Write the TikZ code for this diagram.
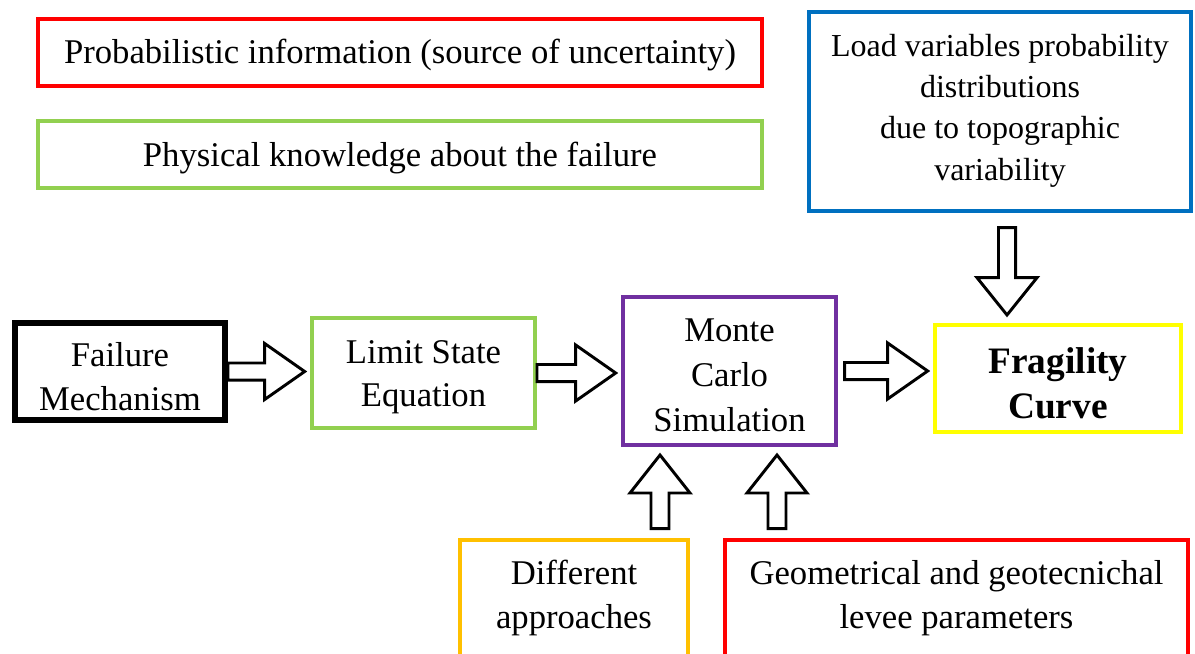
\documentclass[tikz,border=0pt]{standalone}
\usepackage{fontspec}
\setmainfont{Liberation Serif}
\usetikzlibrary{calc}
\definecolor{cred}{RGB}{255,0,0}
\definecolor{cgreen}{RGB}{146,208,80}
\definecolor{cblue}{RGB}{0,112,192}
\definecolor{cpurple}{RGB}{112,48,160}
\definecolor{cyellow}{RGB}{255,255,0}
\definecolor{corange}{RGB}{255,192,0}
\tikzset{
  box/.style={draw, line width=3pt, fill=white, inner sep=0pt},
  txt/.style={align=center, inner sep=0pt, font=\fontsize{26}{32.5}\selectfont},
  blk/.style={draw=black, line width=2.2pt, fill=white, line join=miter}
}
% horizontal block arrow from #1 (start) to #2 (target)
\newcommand{\harr}[3]{%
  \draw[blk] let \p1=(#1), \p2=(#2), \n0={\x1+#3}, \n1={\x2-4pt-30pt}, \n2={\x2-4pt} in
    (\n0,\y1+6.4pt) -- (\n1,\y1+6.4pt) -- (\n1,\y1+21pt) -- (\n2,\y1)
    -- (\n1,\y1-21pt) -- (\n1,\y1-6.4pt) -- (\n0,\y1-6.4pt) -- cycle;}
% upward block arrow at x of #1, from top of #2 up to bottom of #3
\newcommand{\uarr}[3]{%
  \draw[blk] let \p0=(#1), \p1=(#2), \p2=(#3), \n1={\y1+7pt}, \n2={\y2-6pt}, \n3={\y2-6pt-28.5pt} in
    (\x0-6.75pt,\n1) -- (\x0-6.75pt,\n3) -- (\x0-22.5pt,\n3) -- (\x0,\n2)
    -- (\x0+22.5pt,\n3) -- (\x0+6.75pt,\n3) -- (\x0+6.75pt,\n1) -- cycle;}
% downward block arrow at x of #1, from bottom of #2 down to top of #3
\newcommand{\darr}[3]{%
  \draw[blk] let \p0=(#1), \p1=(#2), \p2=(#3), \n1={\y1-11pt}, \n2={\y2+6pt}, \n3={\y2+6pt+28pt} in
    (\x0-6.4pt,\n1) -- (\x0-6.4pt,\n3) -- (\x0-22.5pt,\n3) -- (\x0,\n2)
    -- (\x0+22.5pt,\n3) -- (\x0+6.4pt,\n3) -- (\x0+6.4pt,\n1) -- cycle;}
\begin{document}
\begin{tikzpicture}[x=0.75pt,y=-0.75pt]
\useasboundingbox (0,0) rectangle (1195,653);
% boxes
\node[box, draw=cred, minimum width=543pt, minimum height=50.25pt] (prob) at (400,52.5) {};
\node[box, draw=cgreen, minimum width=543pt, minimum height=50.25pt] (phys) at (400,154.5) {};
\node[box, draw=cblue, minimum width=286.5pt, minimum height=149.25pt] (load) at (1000,111.5) {};
\node[box, draw=black, line width=4.5pt, minimum width=157.5pt, minimum height=72.75pt] (fm) at (120,371.5) {};
\node[box, draw=cgreen, minimum width=167.25pt, minimum height=82.5pt] (ls) at (423.5,373) {};
\node[box, draw=cpurple, minimum width=159.75pt, minimum height=111pt] (mc) at (729.5,371) {};
\node[box, draw=cyellow, minimum width=184.5pt, minimum height=80.25pt] (fc) at (1058,378.5) {};
\node[box, draw=corange, minimum width=171pt, minimum height=88.5pt] (da) at (574,599) {};
\node[box, draw=cred, minimum width=347.25pt, minimum height=88.5pt] (gp) at (956.5,599) {};
% texts
\node[txt] (probt) at ($(prob.center)+(0,3)$) {Probabilistic information (source of uncertainty)};
\node[txt] (physt) at ($(phys.center)+(0,4)$) {Physical knowledge about the failure};
\node[txt, font=\fontsize{24}{31}\selectfont] (loadt) at ($(load.center)+(0,-1)$)
  {Load variables probability\\distributions\\due to topographic\\variability};
\node[txt] (fmt) at ($(fm.center)+(0,5)$) {Failure\\Mechanism};
\node[txt] (lst) at ($(ls.center)+(0,4)$) {Limit State\\Equation};
\node[txt, font=\fontsize{26}{33.75}\selectfont] (mct) at ($(mc.center)+(0,4)$) {Monte\\Carlo\\Simulation};
\node[txt, font=\fontsize{28}{34}\selectfont\bfseries] (fct) at ($(fc.center)+(0,4.5)$) {Fragility\\Curve};
\node[txt] (dat) at ($(da.center)+(0,-1)$) {Different\\approaches};
\node[txt] (gpt) at ($(gp.center)+(0,-1)$) {Geometrical and geotecnichal\\levee parameters};
% arrows
\coordinate (u1) at (660,0);
\coordinate (u2) at (777,0);
\coordinate (d1) at (1007,0);
\harr{fm.east}{ls.west}{0pt}
\harr{ls.east}{mc.west}{0pt}
\harr{mc.east}{fc.west}{5pt}
\uarr{u1}{da.north}{mc.south}
\uarr{u2}{gp.north}{mc.south}
\darr{d1}{load.south}{fc.north}
\end{tikzpicture}
\end{document}
